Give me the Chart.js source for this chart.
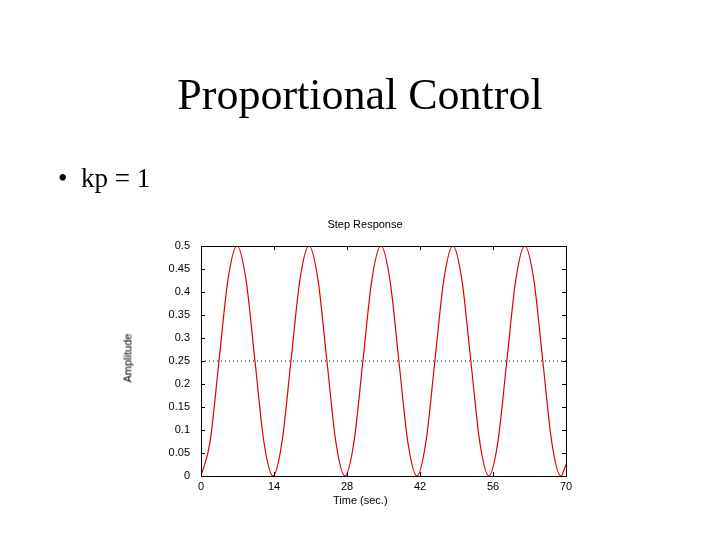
<!DOCTYPE html>
<html>
<head>
<meta charset="utf-8">
<script src="https://cdn.jsdelivr.net/npm/chart.js@4"></script>
<style>
  body { margin: 0; background: #fff; }
  #wrap { position: relative; width: 720px; height: 540px; }
  .t { position: absolute; font-family: "Liberation Serif", serif; color: #000; white-space: nowrap; }
  .s { position: absolute; font-family: "Liberation Sans", sans-serif; font-size: 11px; color: #000; white-space: nowrap; }
  canvas { position: absolute; left: 0; top: 0; }
</style>
</head>
<body>
<div id="wrap">
  <canvas id="c" width="720" height="540"></canvas>
  <div class="t" style="left:0;width:720px;text-align:center;top:69px;font-size:44px;">Proportional Control</div>
  <div class="t" style="left:58px;top:163px;font-size:27px;">•&nbsp; kp = 1</div>
  <div class="s" style="left:0;width:730px;text-align:center;top:218px;">Step Response</div>
  <div class="s" style="left:333px;top:494px;">Time (sec.)</div>
  <div class="s" style="left:103px;top:352px;transform:rotate(-90deg);">Amplitude</div>
</div>
<script>
// sample times (s) and amplitude
const times = [0, 1.725, 3.45, 5.175, 6.9, 8.625, 10.35, 12.075, 13.8,
  15.525, 17.25, 18.975, 20.7, 22.425, 24.15, 25.875, 27.6,
  29.325, 31.05, 32.775, 34.5, 36.225, 37.95, 39.675, 41.4,
  43.125, 44.85, 46.575, 48.3, 50.025, 51.75, 53.475, 55.2,
  56.925, 58.65, 60.375, 62.1, 63.825, 65.55, 67.275, 69, 70];
const amplitude = [0, 0.073, 0.25, 0.427, 0.5, 0.427, 0.25, 0.073, 0,
  0.073, 0.25, 0.427, 0.5, 0.427, 0.25, 0.073, 0,
  0.073, 0.25, 0.427, 0.5, 0.427, 0.25, 0.073, 0,
  0.073, 0.25, 0.427, 0.5, 0.427, 0.25, 0.073, 0,
  0.073, 0.25, 0.427, 0.5, 0.427, 0.25, 0.073, 0, 0.025];
const finalValue = 0.25;
const xTicks = [0, 14, 28, 42, 56, 70];

const boxPlugin = {
  id: 'box',
  afterDraw(chart) {
    const { ctx, chartArea: a, scales } = chart;
    ctx.save();
    ctx.strokeStyle = '#000';
    ctx.lineWidth = 1;
    ctx.strokeRect(a.left + 0.5, a.top + 0.5, a.right - a.left, a.bottom - a.top);
    ctx.beginPath();
    xTicks.forEach(v => {
      const x = Math.round(scales.x.getPixelForValue(v)) + 0.5;
      ctx.moveTo(x, a.bottom); ctx.lineTo(x, a.bottom - 4);
      ctx.moveTo(x, a.top); ctx.lineTo(x, a.top + 4);
    });
    for (let i = 0; i <= 10; i++) {
      const y = Math.round(scales.y.getPixelForValue(i * 0.05)) + 0.5;
      ctx.moveTo(a.left, y); ctx.lineTo(a.left + 4, y);
      ctx.moveTo(a.right, y); ctx.lineTo(a.right - 4, y);
    }
    ctx.stroke();
    ctx.restore();
  }
};

new Chart(document.getElementById('c'), {
  type: 'line',
  data: {
    datasets: [{
      data: times.map((t, i) => ({ x: t, y: amplitude[i] })),
      borderColor: '#e00000',
      borderWidth: 1.2,
      pointRadius: 0,
      cubicInterpolationMode: 'monotone'
    }, {
      data: [{ x: 0, y: finalValue }, { x: 70, y: finalValue }],
      borderColor: '#000',
      borderWidth: 1,
      borderDash: [1, 3],
      pointRadius: 0
    }]
  },
  options: {
    responsive: false,
    animation: false,
    layout: { padding: { left: 161, right: 154, top: 246, bottom: 46 } },
    plugins: { legend: { display: false }, tooltip: { enabled: false } },
    scales: {
      x: {
        type: 'linear', min: 0, max: 70,
        afterFit: s => { s.height = 18; },
        afterBuildTicks: s => { s.ticks = xTicks.map(v => ({ value: v })); },
        grid: { display: false },
        border: { display: false },
        ticks: { color: '#000', font: { family: 'Liberation Sans', size: 11 }, padding: -4, maxRotation: 0 }
      },
      y: {
        min: 0, max: 0.5,
        afterFit: s => { s.width = 40; },
        grid: { display: false },
        border: { display: false },
        ticks: { stepSize: 0.05, color: '#000', font: { family: 'Liberation Sans', size: 11 }, padding: 3,
          callback: v => String(Math.round(v * 100) / 100) }
      }
    }
  },
  plugins: [boxPlugin]
});
</script>
</body>
</html>
